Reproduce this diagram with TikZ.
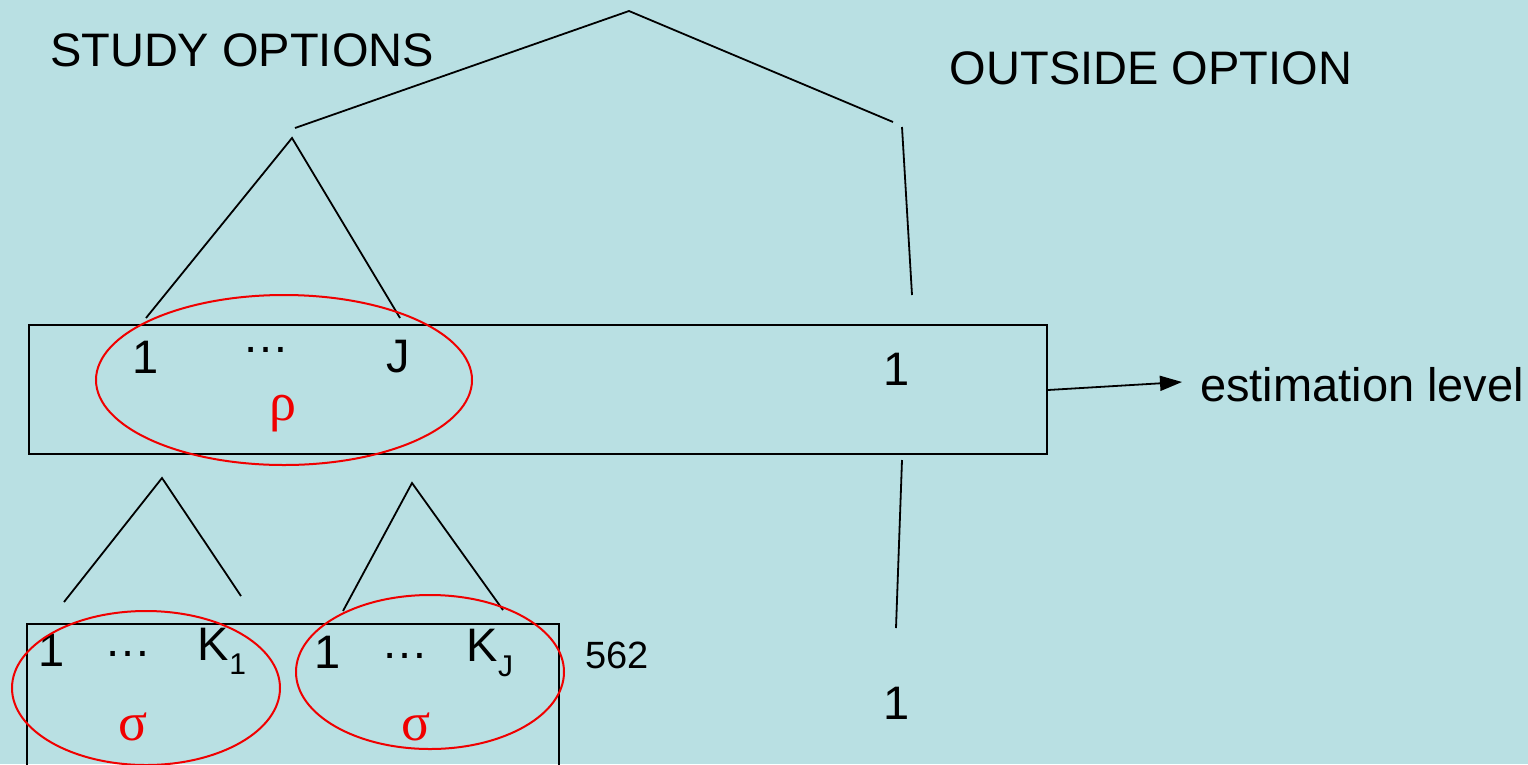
\documentclass[tikz,border=0pt]{standalone}
\usepackage{fontspec}
\setmainfont{Liberation Sans}
\newfontfamily\greekfont{Liberation Serif}
\usetikzlibrary{arrows.meta}
\definecolor{bgcyan}{RGB}{185,224,227}
\definecolor{nestred}{RGB}{240,0,0}
\tikzset{
  branch/.style={draw=black, line width=1.8pt},
  frame/.style={draw=black, line width=2pt},
  nest/.style={draw=nestred, line width=2pt},
  lbl/.style={inner sep=0pt, font=\fontsize{47}{50}\selectfont},
  small/.style={inner sep=0pt, font=\fontsize{38}{42}\selectfont},
  greek/.style={inner sep=0pt, text=nestred, font=\fontsize{54}{58}\greekfont}
}
\newcommand{\sublow}[1]{\raisebox{-0.3em}{\fontsize{30}{30}\selectfont #1}}
\begin{document}
\begin{tikzpicture}[x=1pt,y=-1pt]
  \fill[bgcyan] (0,0) rectangle (1528,764);
  \useasboundingbox (0,0) rectangle (1528,764);

  % tree junctions and branch ends
  \coordinate (top) at (629,11);
  \coordinate (studyL) at (295,128);
  \coordinate (outR) at (893,122);
  \coordinate (studyApex) at (292,138);
  \coordinate (nestA) at (146,318);
  \coordinate (nestJ) at (400,318);
  \coordinate (outTop) at (902,127);
  \coordinate (outMid) at (912,295);
  \coordinate (outLow) at (902,460);
  \coordinate (outBot) at (896,628);
  \coordinate (k1Apex) at (162,478);
  \coordinate (k1L) at (64,602);
  \coordinate (k1R) at (241,596);
  \coordinate (kJApex) at (412,483);
  \coordinate (kJL) at (343,611);
  \coordinate (kJR) at (503,610);

  % top-level labels
  \node[lbl] (study) at (242,50) {STUDY OPTIONS};
  \node[lbl] (outside) at (1151,68) {OUTSIDE OPTION};

  % branches
  \draw[branch] (studyL) -- (top) -- (outR);
  \draw[branch] (nestA) -- (studyApex) -- (nestJ);
  \draw[branch] (outTop) -- (outMid);
  \draw[branch] (outLow) -- (outBot);
  \draw[branch] (k1L) -- (k1Apex) -- (k1R);
  \draw[branch] (kJL) -- (kJApex) -- (kJR);

  % estimation level box
  \node[frame, minimum width=1018pt, minimum height=129pt, inner sep=0pt] (midbox) at (538,389.5) {};
  \node[lbl] (m1) at (146,357) {1};
  \node[lbl] (mdots) at (266,350) {…};
  \node[lbl] (mJ) at (398,357) {J};
  \node[lbl] (o1) at (897,369) {1};
  \node[greek] (rho) at (283,414) {ρ};
  \draw[nest] (284,380) ellipse [x radius=188, y radius=85];

  % arrow to the estimation label
  \node[lbl, anchor=west] (est) at (1200,385) {estimation level};
  \draw[line width=1.8pt, -{Triangle[length=22pt, width=15pt]}] (midbox.east |- 0,390) coordinate (arrStart) -- (1182,382) coordinate (arrEnd);

  % lower level box (runs off the bottom edge)
  \draw[frame] (27,790) |- (559,624) -- (559,790);
  \node[lbl] (b1) at (52,650) {1};
  \node[lbl] (bdots1) at (128,654) {…};
  \node[lbl] (bK1) at (222,651) {K\sublow{1}};
  \node[lbl] (b2) at (328,652) {1};
  \node[lbl] (bdots2) at (405,656) {…};
  \node[lbl] (bKJ) at (490,653) {K\sublow{J}};
  \node[small] (num) at (617,655) {562};
  \node[lbl] (o2) at (897,703) {1};
  \node[greek] (sig1) at (133,727) {σ};
  \node[greek] (sig2) at (416,727) {σ};
  \draw[nest] (146,688) ellipse [x radius=134, y radius=77];
  \draw[nest] (430,672) ellipse [x radius=134, y radius=77];
\end{tikzpicture}
\end{document}
